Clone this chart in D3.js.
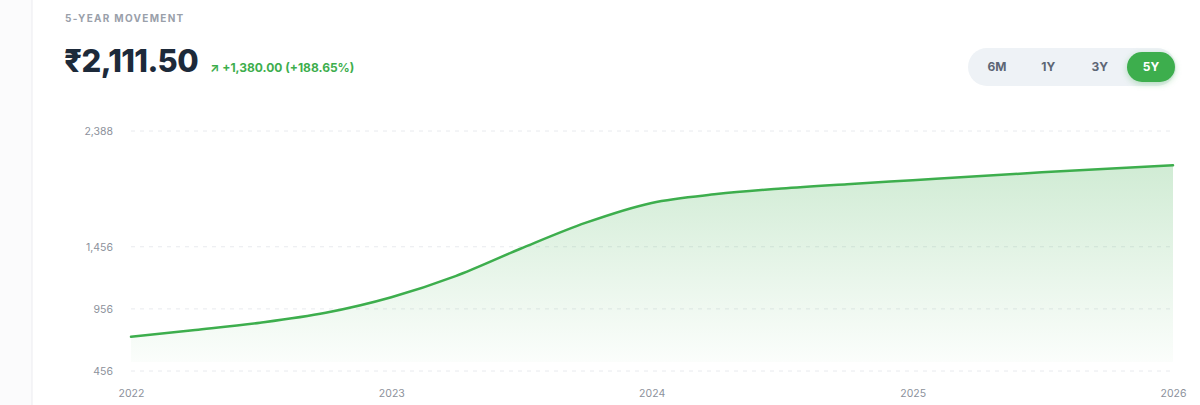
<!DOCTYPE html>
<html>
<head>
<meta charset="utf-8">
<script src="https://cdn.jsdelivr.net/npm/d3@7"></script>
<style>
  html, body { margin: 0; padding: 0; background: #fbfbfc; }
  svg { display: block; font-family: Inter, "Open Sans", sans-serif; }
</style>
</head>
<body>
<script>
// quarterly closing values
const dates = ["2022-01-01", "2022-04-01", "2022-07-01", "2022-10-01",
               "2023-01-01", "2023-04-01", "2023-07-01", "2023-10-01",
               "2024-01-01", "2024-04-01", "2024-07-01", "2024-10-01",
               "2025-01-01", "2025-04-01", "2025-07-01", "2025-10-01",
               "2026-01-01"];
const values = [731.5, 786, 845, 925,
                1050, 1220, 1440, 1650,
                1809, 1880, 1925, 1960,
                1992, 2024, 2055, 2084,
                2111.5];
const yTicks = [456, 956, 1456, 2388];
const xTicks = ["2022", "2023", "2024", "2025", "2026"];
const ranges = ["6M", "1Y", "3Y", "5Y"];
const activeRange = "5Y";

const width = 1200, height = 405;
const green = "#3dae4d";

const parse = d3.timeParse("%Y-%m-%d");
const data = dates.map((d, i) => ({ date: parse(d), value: values[i] }));

const svg = d3.select("body").append("svg")
    .attr("width", width)
    .attr("height", height);

// card
svg.append("rect")
    .attr("x", 32).attr("y", -10)
    .attr("width", width).attr("height", height + 20)
    .attr("fill", "#fff")
    .attr("stroke", "#ececef");

// header
svg.append("text")
    .attr("x", 65).attr("y", 22)
    .attr("fill", "#9aa0aa")
    .attr("font-size", 10)
    .attr("font-weight", 700)
    .attr("letter-spacing", 1.3)
    .text("5-YEAR MOVEMENT");

svg.append("text")
    .attr("x", 64).attr("y", 72)
    .attr("fill", "#1d2a3a")
    .attr("font-size", 31)
    .attr("font-weight", 800)
    .attr("letter-spacing", -0.6)
    .text("₹2,111.50");

svg.append("text")
    .attr("x", 210).attr("y", 72)
    .attr("fill", green)
    .attr("font-size", 12)
    .attr("font-weight", 700)
    .text("↗ +1,380.00 (+188.65%)");

// range toggle
const toggle = svg.append("g");
toggle.append("rect")
    .attr("x", 968).attr("y", 48)
    .attr("width", 208).attr("height", 38)
    .attr("rx", 19)
    .attr("fill", "#eef2f6");

const btnX = d3.scalePoint().domain(ranges).range([997, 1151]);
toggle.append("rect")
    .attr("x", btnX(activeRange) - 24).attr("y", 52)
    .attr("width", 48).attr("height", 30)
    .attr("rx", 15)
    .attr("fill", green)
    .style("filter", "drop-shadow(0 2px 3px rgba(61,174,77,0.35))");

toggle.selectAll("text.btn")
    .data(ranges)
    .join("text")
    .attr("class", "btn")
    .attr("x", d => btnX(d))
    .attr("y", 71)
    .attr("text-anchor", "middle")
    .attr("font-size", 12)
    .attr("font-weight", 700)
    .attr("fill", d => d === activeRange ? "#fff" : "#5d6675")
    .text(d => d);

// scales
const x = d3.scaleTime()
    .domain([parse("2022-01-01"), parse("2026-01-01")])
    .range([131, 1173]);
const y = d3.scaleLinear()
    .domain([456, 2388])
    .range([371, 131]);

// grid
svg.append("g")
    .selectAll("line")
    .data(yTicks)
    .join("line")
    .attr("x1", 131).attr("x2", 1170)
    .attr("y1", d => y(d)).attr("y2", d => y(d))
    .attr("stroke", "#e8eaee")
    .attr("stroke-dasharray", "4,5");

// y axis labels
const yAxis = svg.append("g")
    .attr("transform", "translate(113,0)")
    .call(d3.axisLeft(y).tickValues(yTicks).tickFormat(d3.format(",")).tickSize(0));
yAxis.select(".domain").remove();
yAxis.selectAll("text")
    .attr("fill", "#8c919b")
    .attr("font-size", 10.5)
    .attr("font-family", "Inter, sans-serif")
    .attr("x", 0);

// x axis labels
const xAxis = svg.append("g")
    .attr("transform", "translate(0,387)")
    .call(d3.axisBottom(x)
        .tickValues(xTicks.map(t => parse(t + "-01-01")))
        .tickFormat(d3.timeFormat("%Y"))
        .tickSize(0));
xAxis.select(".domain").remove();
xAxis.selectAll("text")
    .attr("fill", "#8c919b")
    .attr("font-size", 10.5)
    .attr("font-family", "Inter, sans-serif")
    .attr("dy", "0.71em")
    .attr("y", 3);

// area gradient
const defs = svg.append("defs");
const grad = defs.append("linearGradient")
    .attr("id", "areaFill")
    .attr("x1", 0).attr("x2", 0).attr("y1", 0).attr("y2", 1);
grad.append("stop").attr("offset", "0%").attr("stop-color", green).attr("stop-opacity", 0.24);
grad.append("stop").attr("offset", "100%").attr("stop-color", green).attr("stop-opacity", 0.02);

const area = d3.area()
    .x(d => x(d.date))
    .y0(y(456) - 9)
    .y1(d => y(d.value))
    .curve(d3.curveMonotoneX);

const line = d3.line()
    .x(d => x(d.date))
    .y(d => y(d.value))
    .curve(d3.curveMonotoneX);

svg.append("path")
    .datum(data)
    .attr("d", area)
    .attr("fill", "url(#areaFill)");

svg.append("path")
    .datum(data)
    .attr("d", line)
    .attr("fill", "none")
    .attr("stroke", green)
    .attr("stroke-width", 2.5)
    .attr("stroke-linecap", "round");
</script>
</body>
</html>
